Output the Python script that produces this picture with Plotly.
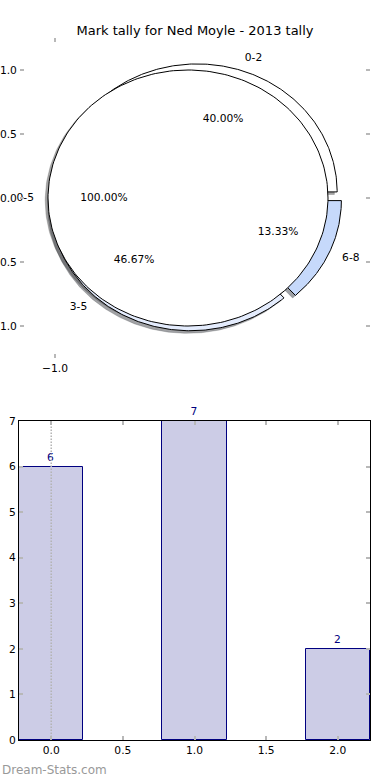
import numpy as np
import plotly.graph_objects as go

# ---------------- data ----------------
TITLE = "Mark tally for Ned Moyle - 2013 tally"
total_labels = ["0-5"]
total_values = [15]
range_labels = ["0-2", "3-5", "6-8"]
range_values = [6, 7, 2]
bar_x = [0, 1, 2]
bar_values = [6, 7, 2]
pie_ytick_vals = [-1.0, -0.5, 0.0, 0.5, 1.0]
pie_xtick_vals = [-1.0]
bar_xtick_vals = [0.0, 0.5, 1.0, 1.5, 2.0]
bar_ytick_vals = [0, 1, 2, 3, 4, 5, 6, 7]
WATERMARK = "Dream-Stats.com"

# ---------------- style ----------------
W, H = 390, 780
FONT = "DejaVu Sans"
FS = 10.7
total_colors = [(255, 255, 255)]
range_colors = [(255, 255, 255), (228, 236, 253), (198, 217, 251)]
EXPLODE = 0.05
LABEL_DIST = 1.1
PCT_DIST = 0.6
SHADOW_OFF = -0.02
TICK_GRAY = "#b8b8b8"


def make_wedges(values, colors):
    total = float(sum(values))
    out = []
    t1 = 0.0
    for v, c in zip(values, colors):
        frac = v / total
        t2 = t1 + 360.0 * frac
        tm = np.deg2rad(0.5 * (t1 + t2))
        out.append(dict(t1=t1, t2=t2, tm=tm, frac=frac, color=c,
                        cx=EXPLODE * np.cos(tm), cy=EXPLODE * np.sin(tm)))
        t1 = t2
    return out


def wedge_path(w, dx=0.0, dy=0.0):
    th = np.deg2rad(np.linspace(w["t1"], w["t2"], 241))
    xs = w["cx"] + dx + np.cos(th)
    ys = w["cy"] + dy + np.sin(th)
    if abs(w["t2"] - w["t1"] - 360.0) < 1e-9:
        return list(xs), list(ys)
    cx, cy = w["cx"] + dx, w["cy"] + dy
    return [cx] + list(xs) + [cx], [cy] + list(ys) + [cy]


pie_total = make_wedges(total_values, total_colors)
pie_range = make_wedges(range_values, range_colors)

fig = go.Figure()

# shadows (drawn beneath all wedges)
for w in pie_total + pie_range:
    xs, ys = wedge_path(w, SHADOW_OFF, SHADOW_OFF)
    r, g, b = [int(0.3 * k) for k in w["color"]]
    col = f"rgba({r},{g},{b},0.5)"
    fig.add_trace(go.Scatter(x=xs, y=ys, mode="lines", fill="toself",
                             fillcolor=col, line=dict(color=col, width=0.5),
                             hoverinfo="skip", showlegend=False,
                             xaxis="x", yaxis="y"))

# wedges: range pie first, total pie on top
for w in pie_range + pie_total:
    xs, ys = wedge_path(w)
    r, g, b = w["color"]
    fig.add_trace(go.Scatter(x=xs, y=ys, mode="lines", fill="toself",
                             fillcolor=f"rgb({r},{g},{b})",
                             line=dict(color="black", width=1),
                             hoverinfo="skip", showlegend=False,
                             xaxis="x", yaxis="y"))

# labels and percentages
for wl, labels in ((pie_range, range_labels), (pie_total, total_labels)):
    for w, lab in zip(wl, labels):
        lx = w["cx"] + LABEL_DIST * np.cos(w["tm"])
        ly = w["cy"] + LABEL_DIST * np.sin(w["tm"])
        pos = "middle right" if lx > 0 else "middle left"
        fig.add_trace(go.Scatter(x=[lx], y=[ly], mode="text", text=[lab],
                                 textposition=pos,
                                 textfont=dict(family=FONT, size=FS, color="black"),
                                 hoverinfo="skip", showlegend=False,
                                 cliponaxis=False, xaxis="x", yaxis="y"))
        px = w["cx"] + PCT_DIST * np.cos(w["tm"])
        py = w["cy"] + PCT_DIST * np.sin(w["tm"])
        fig.add_trace(go.Scatter(x=[px], y=[py], mode="text",
                                 text=["%.2f%%" % (100 * w["frac"])],
                                 textposition="middle center",
                                 textfont=dict(family=FONT, size=FS, color="black"),
                                 hoverinfo="skip", showlegend=False,
                                 cliponaxis=False, xaxis="x", yaxis="y"))

# bar chart
fig.add_trace(go.Bar(x=bar_x, y=bar_values, width=0.45,
                     marker=dict(color="rgba(0,0,128,0.2)",
                                 line=dict(color="navy", width=1)),
                     text=[str(v) for v in bar_values], textposition="outside",
                     textfont=dict(family=FONT, size=FS, color="navy"),
                     cliponaxis=False, hoverinfo="skip", showlegend=False,
                     xaxis="x2", yaxis="y2"))


def px_dom_x(a, b):
    return [a / W, b / W]


def px_dom_y(top, bottom):
    return [(H - bottom) / H, (H - top) / H]


tickfont = dict(family=FONT, size=FS, color="black")
common = dict(showgrid=False, zeroline=False, showline=True, mirror="all",
              automargin=False, ticks="inside", ticklen=4, tickwidth=1.5,
              tickcolor=TICK_GRAY, tickfont=tickfont)

fig.update_layout(
    width=W, height=H,
    margin=dict(l=0, r=0, t=0, b=0, pad=0, autoexpand=False),
    paper_bgcolor="white", plot_bgcolor="rgba(0,0,0,0)",
    bargap=0,
    title=dict(text=TITLE, x=0.5, xanchor="center", xref="paper",
               y=1 - 30 / H, yanchor="middle", yref="container",
               automargin=False,
               font=dict(family=FONT, size=13, color="black")),
    xaxis=dict(domain=px_dom_x(20, 370), range=[-1.25, 1.25], anchor="y",
               linecolor="rgba(0,0,0,0)", tickvals=pie_xtick_vals,
               tickformat=".1f", **common),
    yaxis=dict(domain=px_dom_y(38, 358), range=[-1.25, 1.25], anchor="x",
               linecolor="rgba(0,0,0,0)", tickvals=pie_ytick_vals,
               tickformat=".1f", **common),
    xaxis2=dict(domain=px_dom_x(19, 370), range=[-0.225, 2.225], anchor="y2",
                linecolor="black", linewidth=1, tickvals=bar_xtick_vals,
                tickformat=".1f", **common),
    yaxis2=dict(domain=px_dom_y(421, 740), range=[0, 7], anchor="x2",
                linecolor="black", linewidth=1, tickvals=bar_ytick_vals,
                **common),
    shapes=[dict(type="line", xref="x2", yref="y2", x0=0, x1=0,
                 y0=0, y1=max(bar_ytick_vals), layer="above",
                 line=dict(color="#b4b4b4", width=1.5, dash="1.5px,1.5px"))],
    annotations=[dict(text=WATERMARK, x=0, xref="paper", xanchor="left",
                      y=10 / H, yref="paper", yanchor="middle",
                      showarrow=False,
                      font=dict(family=FONT, size=12, color="#999999"))],
)

fig.write_html("out.html",
               config={"displayModeBar": False},
               post_script="document.body.style.margin='0';"
                           "document.body.style.padding='0';")
